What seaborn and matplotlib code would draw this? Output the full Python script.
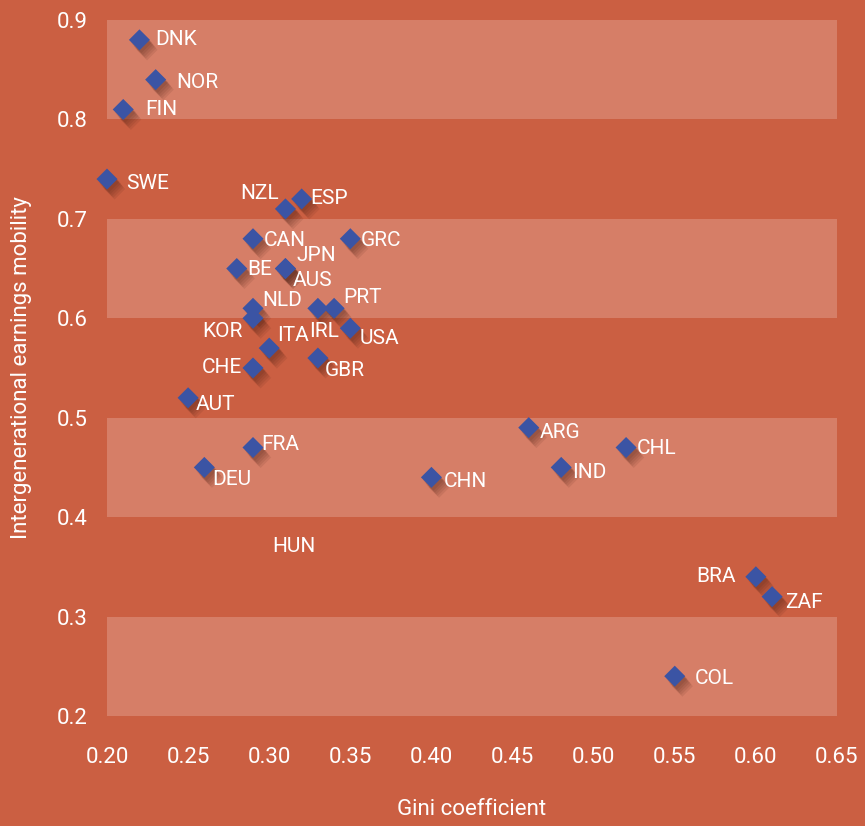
import matplotlib
matplotlib.use("Agg")
import matplotlib.pyplot as plt
import matplotlib.patheffects as pe
import seaborn as sns
import pandas as pd

# ---- data ----
countries = ["DNK", "NOR", "FIN", "SWE", "NZL", "ESP", "GRC", "CAN", "JPN", "AUS",
             "BE", "NLD", "KOR", "PRT", "IRL", "USA", "ITA", "CHE", "GBR", "AUT",
             "FRA", "DEU", "CHN", "ARG", "IND", "CHL", "BRA", "ZAF", "COL"]
gini = [0.22, 0.23, 0.21, 0.20, 0.31, 0.32, 0.35, 0.29, 0.31, 0.31,
        0.28, 0.29, 0.29, 0.34, 0.33, 0.35, 0.30, 0.29, 0.33, 0.25,
        0.29, 0.26, 0.40, 0.46, 0.48, 0.52, 0.60, 0.61, 0.55]
mobility = [0.88, 0.84, 0.81, 0.74, 0.71, 0.72, 0.68, 0.68, 0.65, 0.65,
            0.65, 0.61, 0.60, 0.61, 0.61, 0.59, 0.57, 0.55, 0.56, 0.52,
            0.47, 0.45, 0.44, 0.49, 0.45, 0.47, 0.34, 0.32, 0.24]
# label without a visible marker
unmarked_label = ["HUN"]
unmarked_gini = [0.315]
unmarked_mobility = [0.37]

x_ticks = [0.20, 0.25, 0.30, 0.35, 0.40, 0.45, 0.50, 0.55, 0.60, 0.65]
y_ticks = [0.2, 0.3, 0.4, 0.5, 0.6, 0.7, 0.8, 0.9]
bands = [(0.2, 0.3), (0.4, 0.5), (0.6, 0.7), (0.8, 0.9)]

# label offsets (pixels) and alignment
offsets = {
    "DNK": (16, 0, "left"), "NOR": (21, -3, "left"), "FIN": (22, 0, "left"),
    "SWE": (19, -4, "left"), "NZL": (-7, 15, "right"), "ESP": (9, 0, "left"),
    "GRC": (10, -2, "left"), "CAN": (11, -2, "left"), "JPN": (11, 13, "left"),
    "AUS": (7, -12, "left"), "BE": (10, -1, "left"), "NLD": (9, 8, "left"),
    "KOR": (-10, -13, "right"), "PRT": (9, 11, "left"), "IRL": (-9, -23, "left"),
    "USA": (9, -10, "left"), "ITA": (8, 13, "left"), "CHE": (-11, 0, "right"),
    "GBR": (7, -12, "left"), "AUT": (8, -7, "left"), "FRA": (8, 3, "left"),
    "DEU": (8, -12, "left"), "CHN": (12, -4, "left"), "ARG": (11, -5, "left"),
    "IND": (11, -5, "left"), "CHL": (11, -1, "left"), "BRA": (-20, 0, "right"),
    "ZAF": (13, -6, "left"), "COL": (20, -2, "left"),
}

BG = "#CB5F42"
BAND = "#D67E67"
MARK = "#3B54A4"
FONT = ["Roboto", "DejaVu Sans"]

sns.set_theme(style="white")
plt.rcParams["font.family"] = FONT

df = pd.DataFrame({"country": countries, "gini": gini, "mobility": mobility})

fig = plt.figure(figsize=(8.65, 8.26), dpi=100, facecolor=BG)
ax = fig.add_axes([0.1237, 0.1332, 0.8439, 0.8426])
ax.set_facecolor(BG)

for lo, hi in bands:
    ax.axhspan(lo, hi, xmin=0, xmax=1, color=BAND, lw=0, zorder=0)

sns.scatterplot(data=df, x="gini", y="mobility", ax=ax, marker="D", s=115,
                color=MARK, edgecolor="none", zorder=3, legend=False, clip_on=False)
shadow = [pe.SimplePatchShadow(offset=(o, -1.3 * o), shadow_rgbFace="#4a1e12", alpha=0.10)
          for o in (1.5, 2.5, 3.5, 4.5, 5.5)]
for coll in ax.collections:
    coll.set_path_effects(shadow + [pe.Normal()])
    coll.set_clip_on(False)

px2pt = 72 / 100
for c, gx, gy in zip(countries, gini, mobility):
    dx, dy, ha = offsets[c]
    ax.annotate(c, (gx, gy), xytext=(dx * px2pt, dy * px2pt), textcoords="offset points",
                ha=ha, va="center", color="white", fontsize=15, zorder=4)
for c, gx, gy in zip(unmarked_label, unmarked_gini, unmarked_mobility):
    ax.text(gx, gy, c, ha="center", va="center", color="white", fontsize=15, zorder=4)

ax.set_xlim(0.2, 0.65)
ax.set_ylim(0.2, 0.9)
ax.set_xticks(x_ticks)
ax.set_xticklabels([f"{v:.2f}" for v in x_ticks])
ax.set_yticks(y_ticks)
ax.set_yticklabels([f"{v:.1f}" for v in y_ticks])
ax.tick_params(axis="x", length=0, pad=22, labelsize=16, colors="white")
ax.tick_params(axis="y", length=0, pad=14, labelsize=16, colors="white")
for s in ax.spines.values():
    s.set_visible(False)
ax.grid(False)

ax.set_xlabel("Gini coefficient", color="white", fontsize=16, labelpad=23)
ax.set_ylabel("Intergenerational earnings mobility", color="white", fontsize=16, labelpad=18)

fig.savefig("out.png", dpi=100, facecolor=BG)
